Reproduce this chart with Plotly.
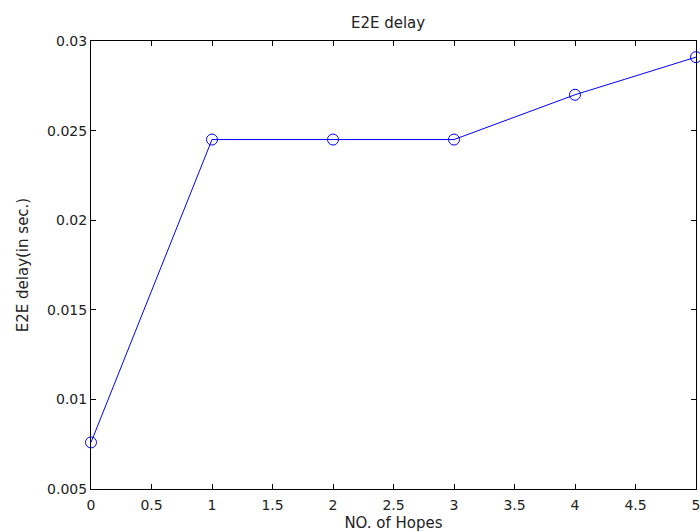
import plotly.graph_objects as go

hops = [0, 1, 2, 3, 4, 5]
delay = [0.0076, 0.0245, 0.0245, 0.0245, 0.0270, 0.0291]

x_ticks = [0, 0.5, 1, 1.5, 2, 2.5, 3, 3.5, 4, 4.5, 5]
x_labels = ["0", "0.5", "1", "1.5", "2", "2.5", "3", "3.5", "4", "4.5", "5"]
y_ticks = [0.005, 0.01, 0.015, 0.02, 0.025, 0.03]
y_labels = ["0.005", "0.01", "0.015", "0.02", "0.025", "0.03"]

TICKFONT = dict(family="DejaVu Sans, Arial, sans-serif", size=14, color="#222")
TITLEFONT = dict(family="DejaVu Sans, Arial, sans-serif", size=15, color="#222")

fig = go.Figure()
fig.add_trace(go.Scatter(
    x=hops, y=delay, mode="lines+markers",
    line=dict(color="#0000ff", width=1),
    marker=dict(symbol="circle-open", size=11, color="#0000ff", line=dict(width=1)),
    cliponaxis=False,
))

axis_common = dict(
    showline=True, linecolor="black", linewidth=1, mirror="ticks",
    ticks="inside", ticklen=5, tickcolor="black", tickwidth=1,
    showgrid=False, zeroline=False, automargin=False,
    tickfont=TICKFONT, ticklabeloverflow="allow",
)

fig.update_layout(
    width=700, height=532,
    margin=dict(l=91, r=4, t=41, b=43),
    paper_bgcolor="white", plot_bgcolor="white",
    showlegend=False,
    title=dict(text="E2E delay", xref="paper", x=0.491, xanchor="center",
               yref="container", y=1 - 23 / 532, yanchor="middle",
               font=TITLEFONT),
    xaxis=dict(range=[0, 5], tickvals=x_ticks, ticktext=x_labels,
               ticklabelstandoff=3,
               title=dict(text="NO. of Hopes", font=TITLEFONT, standoff=11),
               **axis_common),
    yaxis=dict(range=[0.005, 0.03], tickvals=y_ticks, ticktext=y_labels,
               title=dict(text="E2E delay(in sec.)", font=TITLEFONT, standoff=14),
               **axis_common),
)

fig.write_html(
    "out.html",
    config={"displayModeBar": False},
    post_script="document.body.style.margin='0';document.body.style.overflow='hidden';",
)
